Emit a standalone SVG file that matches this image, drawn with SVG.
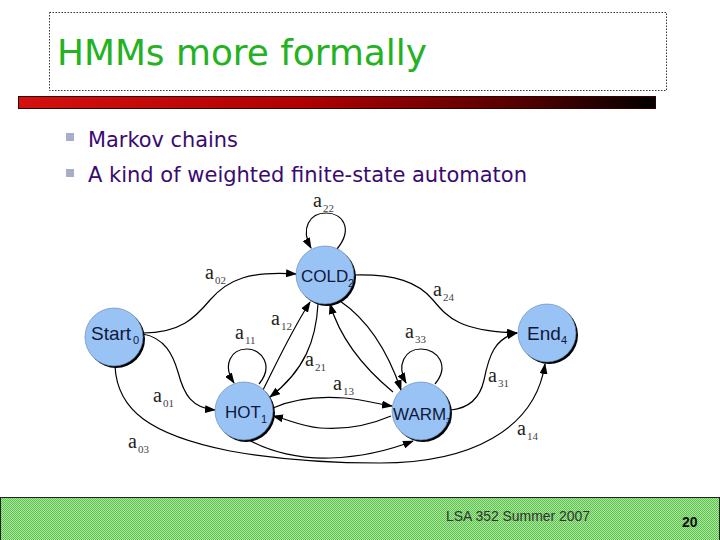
<svg xmlns="http://www.w3.org/2000/svg" width="720" height="540" viewBox="0 0 720 540">
<style>
.title{font-family:"DejaVu Sans","Verdana",sans-serif;font-size:36px;fill:#22b222}
.bul{font-family:"DejaVu Sans","Verdana",sans-serif;font-size:22px;fill:#3a0a70}
.nt{font-family:"Liberation Sans",Arial,sans-serif;font-size:17px;fill:#10183a}
.nb{font-family:"Liberation Sans",Arial,sans-serif;font-size:19px;fill:#10183a}
.ns{font-family:"Liberation Sans",Arial,sans-serif;font-size:11px;fill:#10183a}
.la{font-family:"Liberation Serif","Times New Roman",serif;font-size:20px;fill:#222}
.ls{font-family:"Liberation Serif","Times New Roman",serif;font-size:11px;fill:#444}
.e{fill:none;stroke:#000;stroke-width:1.2;marker-end:url(#arr)}
.sh{fill:#000}
.c{fill:#99c3f5;stroke:#5c7fb0;stroke-width:0.6}
.foot{font-family:"Liberation Sans",Arial,sans-serif;font-size:14px;fill:#333}
</style>
<defs>
<marker id="arr" markerWidth="11" markerHeight="8" refX="10" refY="4" orient="auto" markerUnits="userSpaceOnUse">
<path d="M0,0 L11,4 L0,8 z" fill="#000"/>
</marker>
<linearGradient id="bar" x1="0" y1="0" x2="1" y2="0">
<stop offset="0" stop-color="#d41010"/>
<stop offset="0.45" stop-color="#b00000"/>
<stop offset="0.8" stop-color="#500000"/>
<stop offset="1" stop-color="#000"/>
</linearGradient>
<pattern id="chk" width="2" height="2" patternUnits="userSpaceOnUse">
<rect width="2" height="2" fill="#ace8a0"/>
<rect width="1" height="1" fill="#5cc04c"/>
<rect x="1" y="1" width="1" height="1" fill="#5cc04c"/>
</pattern>
</defs>
<rect width="720" height="540" fill="#fff"/>
<g id="title">
<rect x="49.5" y="12.5" width="617" height="78" fill="none" stroke="#333" stroke-width="1" stroke-dasharray="1.5,1.5"/>
<text class="title" x="57" y="65" textLength="370" lengthAdjust="spacingAndGlyphs">HMMs more formally</text>
</g>
<rect x="18.5" y="96.5" width="637" height="12" fill="url(#bar)" stroke="#300" stroke-width="1"/>
<g id="bullets">
<rect x="66" y="133" width="8" height="8" fill="#a8aec8"/>
<text class="bul" x="88" y="147" textLength="150" lengthAdjust="spacingAndGlyphs">Markov chains</text>
<rect x="66" y="169" width="8" height="8" fill="#a8aec8"/>
<text class="bul" x="88" y="182" textLength="439" lengthAdjust="spacingAndGlyphs">A kind of weighted finite-state automaton</text>
</g>
<g id="connectors">
<path id="e02" class="e" d="M143,333 C180,333 195,318 210,300 C228,279 250,271 296,274"/>
<path id="e01" class="e" d="M143,334 C165,338 173,355 178,372 C184,395 192,408 215,410"/>
<path id="e22" class="e" d="M337,249 C354,228 342,213 326,213 C310,213 300,228 311,248"/>
<path id="e11" class="e" d="M259,384 C274,366 262,349 247,349 C231,349 222,365 234,383"/>
<path id="e33" class="e" d="M435,384 C450,366 438,349 421,349 C405,349 396,365 406,383"/>
<path id="e24" class="e" d="M354,275 C395,274 418,282 433,300 C448,318 460,331 517,333"/>
<path id="e34" class="e" d="M451,410 C470,408 480,398 484,380 C489,355 495,338 517,333"/>
<path id="e12" class="e" d="M263,390 C278,360 292,330 310,302"/>
<path id="e21" class="e" d="M318,304 C316,340 305,370 270,397"/>
<path id="e32" class="e" d="M393,392 C370,373 342,345 330,304"/>
<path id="e23" class="e" d="M340,301 C368,320 388,352 401,390"/>
<path id="e13" class="e" d="M273,408 C295,398 320,396 345,398 C365,400 378,404 392,406"/>
<path id="e31" class="e" d="M391,416 C370,425 345,430 320,428 C300,426 290,420 273,416"/>
<path id="e13b" class="e" d="M249,440 C270,452 300,459 330,458 C360,457 385,452 413,441"/>
<path id="e04" class="e" d="M115,366 C117,410 150,435 230,451 C280,460 330,463 380,463 C470,463 535,430 545,364"/>
</g>
<g id="labels">
<text class="la" x="313" y="207">a</text><text class="ls" x="323" y="212">22</text>
<text class="la" x="205" y="279">a</text><text class="ls" x="215" y="284">02</text>
<text class="la" x="433" y="296">a</text><text class="ls" x="443" y="301">24</text>
<text class="la" x="271" y="325">a</text><text class="ls" x="281" y="330">12</text>
<text class="la" x="235" y="339">a</text><text class="ls" x="245" y="344">11</text>
<text class="la" x="305" y="366">a</text><text class="ls" x="315" y="371">21</text>
<text class="la" x="333" y="390">a</text><text class="ls" x="343" y="395">13</text>
<text class="la" x="405" y="338">a</text><text class="ls" x="415" y="343">33</text>
<text class="la" x="153" y="402">a</text><text class="ls" x="163" y="407">01</text>
<text class="la" x="488" y="382">a</text><text class="ls" x="498" y="387">31</text>
<text class="la" x="517" y="435">a</text><text class="ls" x="527" y="440">14</text>
<text class="la" x="128" y="448">a</text><text class="ls" x="138" y="453">03</text>
</g>
<g id="start">
<circle class="sh" cx="116" cy="339" r="29"/>
<circle class="c" cx="114" cy="337" r="29"/>
<text class="nb" x="91" y="340">Start</text><text class="ns" x="133" y="344">0</text>
</g>
<g id="cold">
<circle class="sh" cx="327" cy="277" r="29"/>
<circle class="c" cx="325" cy="275" r="29"/>
<text class="nt" x="301" y="282">COLD</text><text class="ns" x="348" y="287">2</text>
</g>
<g id="hot">
<circle class="sh" cx="246" cy="413" r="29"/>
<circle class="c" cx="244" cy="411" r="29"/>
<text class="nt" x="225" y="418">HOT</text><text class="ns" x="261" y="423">1</text>
</g>
<g id="warm">
<circle class="sh" cx="423" cy="413" r="29"/>
<circle class="c" cx="421" cy="411" r="29"/>
<text class="nt" x="393" y="420">WARM</text><text class="ns" x="446" y="424" style="font-size:9px">3</text>
</g>
<g id="end">
<circle class="sh" cx="549" cy="335" r="29"/>
<circle class="c" cx="547" cy="333" r="29"/>
<text class="nb" x="527" y="340">End</text><text class="ns" x="561" y="344">4</text>
</g>
<g id="footer">
<rect x="0.5" y="497.5" width="719" height="43" fill="url(#chk)" stroke="#222" stroke-width="1"/>
<text class="foot" x="446" y="521" textLength="144" lengthAdjust="spacingAndGlyphs">LSA 352 Summer 2007</text>
<text class="foot" x="682" y="527" style="font-weight:bold;fill:#111">20</text>
</g>
</svg>
